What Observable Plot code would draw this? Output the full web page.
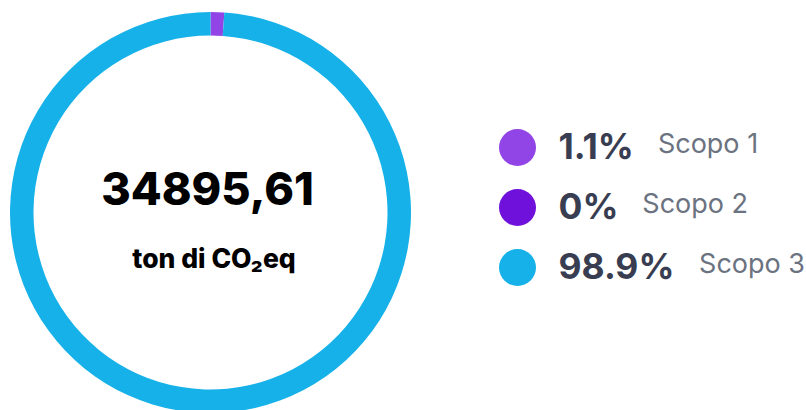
<!DOCTYPE html>
<html>
<head>
<meta charset="utf-8">
<script src="https://cdn.jsdelivr.net/npm/d3@7"></script>
<script src="https://cdn.jsdelivr.net/npm/@observablehq/plot@0.6"></script>
<style>
  html, body { margin: 0; padding: 0; background: #fff; }
  svg { display: block; }
</style>
</head>
<body>
<div id="chart"></div>
<script>
// ---- data ----
const categories = ["Scopo 1", "Scopo 2", "Scopo 3"];
const shares = [1.1, 0, 98.9];          // percent
const colors = ["#9145e6", "#7010db", "#16b1e8"];
const total = 34895.61;
const unitLabel = "ton di CO₂eq";

const rows = categories.map((c, i) => ({category: c, share: shares[i], i}));

// layout
const W = 806, H = 410;
const cx = 210.5, cy = 212.5, R = 200.5, r = 177;
const pctFont = "bold 36px Inter";
const pctX = 558;
const ctx = document.createElement("canvas").getContext("2d");
ctx.font = pctFont;
const pctText = d => `${d.share}%`;
const labelX = d => pctX + ctx.measureText(pctText(d)).width + 23;
const rowY = d => 147 + d.i * 60;

const totalText = total.toFixed(2).replace(".", ",");

// ring as a custom mark using Plot's color scale
function ring(index, scales) {
  const pie = d3.pie().sort(null).value(d => d.share).startAngle(0).endAngle(2 * Math.PI);
  const arc = d3.arc().innerRadius(r).outerRadius(R);
  const g = d3.create("svg:g").attr("transform", `translate(${scales.x(cx)},${scales.y(cy)})`);
  g.selectAll("path").data(pie(rows)).join("path")
    .attr("d", arc)
    .attr("fill", d => scales.color(d.data.category));
  return g.node();
}

const plot = Plot.plot({
  width: W, height: H,
  margin: 0,
  x: {type: "identity", axis: null},
  y: {type: "identity", axis: null},
  color: {type: "ordinal", domain: categories, range: colors},
  style: {fontFamily: "Inter, sans-serif", background: "#fff"},
  marks: [
    ring,
    Plot.text([totalText], {x: cx - 3.5, y: 190, text: d => d, fontSize: 45, fontWeight: 800, fill: "#000", lineAnchor: "middle"}),
    Plot.text([unitLabel], {x: cx + 3, y: 259, text: d => d, fontSize: 26.5, fontWeight: 800, fill: "#000", lineAnchor: "middle"}),
    Plot.dot(rows, {x: 517, y: rowY, r: 18.5, fill: "category", stroke: null}),
    Plot.text(rows, {x: pctX, y: d => rowY(d) + 0.5, text: pctText, textAnchor: "start", lineAnchor: "middle", fontSize: 35.5, fontWeight: 700, fill: "#383d51"}),
    Plot.text(rows, {x: labelX, y: d => rowY(d) - 3, text: "category", textAnchor: "start", lineAnchor: "middle", fontSize: 27, fontWeight: 400, fill: "#6b7280"})
  ]
});
document.getElementById("chart").appendChild(plot);
</script>
</body>
</html>
